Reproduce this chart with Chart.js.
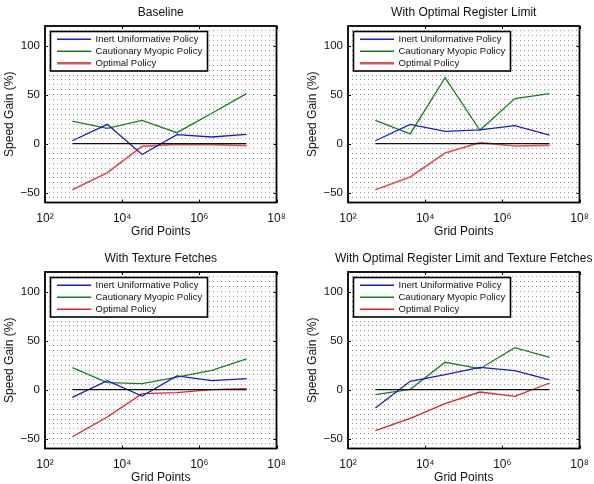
<!DOCTYPE html>
<html><head><meta charset="utf-8">
<script src="https://cdn.jsdelivr.net/npm/chart.js@4.4.1/dist/chart.umd.min.js"></script>
<style>
html,body{margin:0;padding:0;background:#fff;overflow:hidden;}
#wrap{position:relative;width:594px;height:484px;overflow:hidden;background:#fff;}
canvas{position:absolute;}
</style></head><body><div id="wrap">
<canvas id="c0" width="297" height="240" style="left:0px;top:0px"></canvas>
<canvas id="c1" width="297" height="240" style="left:303px;top:0px"></canvas>
<canvas id="c2" width="297" height="240" style="left:0px;top:246px"></canvas>
<canvas id="c3" width="297" height="240" style="left:303px;top:246px"></canvas>
</div>
<script>
// ---- data ----
const gridPoints = [512, 4096, 32768, 262144, 2097152, 16777216];
const panelTitles = ['Baseline', 'With Optimal Register Limit', 'With Texture Fetches', 'With Optimal Register Limit and Texture Fetches'];
const seriesNames = ['Inert Uniformative Policy', 'Cautionary Myopic Policy', 'Optimal Policy'];

const baselineInert = [3, 19.7, -11, 9.2, 6.8, 9.5];
const baselineMyopic = [23, 15.6, 23.8, 11.2, 31, 51];
const baselineOptimal = [-47, -29.6, -2.7, -0.8, -1, -2];

const registerInert = [3, 19.7, 12.6, 14, 18.4, 8.8];
const registerMyopic = [23.8, 9.9, 67.3, 13.6, 46, 51];
const registerOptimal = [-47, -34, -9.5, 1, -2.4, -1.7];

const textureInert = [-7.8, 9.2, -6.5, 14, 9.2, 11.2];
const textureMyopic = [22.4, 7.1, 6.1, 12.9, 19.7, 31.3];
const textureOptimal = [-48, -27.9, -4, -3, 0, 1];

const bothInert = [-18.7, 8.5, 15.3, 22.8, 19.4, 9.9];
const bothMyopic = [-5, 0.3, 27.9, 21.4, 42.9, 33];
const bothOptimal = [-41.8, -29.3, -14.3, -2.4, -6.8, 6.8];

const zeroLine = [0, 0, 0, 0, 0, 0];

const xTickValues = [1e2, 1e4, 1e6, 1e8];
const xTickLabels = ['10\u00B2', '10\u2074', '10\u2076', '10\u2078'];
const yTickValues = [-50, 0, 50, 100];
const yTickLabels = ['\u221250', '0', '50', '100'];
const yGridStep = 5;
const xRange = [1e2, 1e8];
const yRange = [-60, 120];

const panelSeries = [
  [baselineInert, baselineMyopic, baselineOptimal],
  [registerInert, registerMyopic, registerOptimal],
  [textureInert, textureMyopic, textureOptimal],
  [bothInert, bothMyopic, bothOptimal]
];

// ---- styles ----
const FONT = "'Liberation Sans', Arial, Helvetica, sans-serif";
const seriesColors = ['rgb(25,25,215)', 'rgb(25,128,25)', 'rgb(225,35,35)'];
const topRed = 'rgb(222,85,85)';

function pts(ys) { return gridPoints.map((x, i) => ({x: x, y: ys[i]})); }

const framePlugin = {
  id: 'frameAndLegend',
  afterDatasetsDraw(chart, args, opts) {
    const ctx = chart.ctx, ca = chart.chartArea;
    const xs = chart.scales.x, ys = chart.scales.y;
    ctx.save();
    // ticks inside
    ctx.strokeStyle = '#000';
    ctx.lineWidth = 1;
    ctx.beginPath();
    xTickValues.forEach(v => {
      const px = Math.round(xs.getPixelForValue(v)) + 0.5;
      ctx.moveTo(px, ca.bottom); ctx.lineTo(px, ca.bottom - 3);
      ctx.moveTo(px, ca.top); ctx.lineTo(px, ca.top + 3);
    });
    yTickValues.forEach(v => {
      const py = Math.round(ys.getPixelForValue(v)) + 0.5;
      ctx.moveTo(ca.left, py); ctx.lineTo(ca.left + 3, py);
      ctx.moveTo(ca.right, py); ctx.lineTo(ca.right - 3, py);
    });
    ctx.stroke();
    // frame
    ctx.lineWidth = 1.8;
    ctx.strokeRect(ca.left, ca.top, ca.right - ca.left, ca.bottom - ca.top);
    // legend
    const bx = ca.left + 5.5, by = ca.top + 5.5, bw = 157, bh = 39.5;
    ctx.fillStyle = '#fff';
    ctx.fillRect(bx, by, bw, bh);
    ctx.lineWidth = 1.6;
    ctx.strokeStyle = '#000';
    ctx.strokeRect(bx, by, bw, bh);
    ctx.font = '9.5px ' + FONT;
    ctx.textBaseline = 'middle';
    ctx.textAlign = 'left';
    chart.data.datasets.forEach(ds => {
      if (!ds.inLegend) return;
      const ry = by + 7.8 + 12 * ds.legendRow;
      ctx.strokeStyle = ds.borderColor;
      ctx.lineWidth = ds.legendWidth;
      ctx.beginPath();
      ctx.moveTo(bx + 6.5, ry); ctx.lineTo(bx + 40.5, ry);
      ctx.stroke();
      ctx.fillStyle = '#111';
      ctx.fillText(ds.label, bx + 45, ry + 0.5);
    });
    // title
    ctx.font = '12px ' + FONT;
    ctx.fillStyle = '#111';
    ctx.textAlign = 'center';
    ctx.fillText(opts.title, (ca.left + ca.right) / 2, 12.7);
    ctx.restore();
  }
};

panelSeries.forEach((series, p) => {
  const datasets = [{
    label: 'zero', data: pts(zeroLine), borderColor: '#111', borderWidth: 1.2,
    pointRadius: 0, tension: 0, inLegend: false
  }];
  series.forEach((ys, s) => {
    const isTopRed = (s === 2 && p < 2);
    datasets.push({
      label: seriesNames[s], data: pts(ys),
      borderColor: isTopRed ? topRed : seriesColors[s],
      borderWidth: isTopRed ? 1.7 : 1.3,
      legendWidth: isTopRed ? 2.6 : 1.4,
      pointRadius: 0, tension: 0, inLegend: true, legendRow: s
    });
  });
  new Chart(document.getElementById('c' + p), {
    type: 'line',
    data: {datasets: datasets},
    plugins: [framePlugin],
    options: {
      responsive: false, animation: false, devicePixelRatio: 1,
      layout: {padding: {left: 0, right: 20.5, top: 26, bottom: 0}},
      plugins: {
        legend: {display: false}, tooltip: {enabled: false}, title: {display: false},
        frameAndLegend: {title: panelTitles[p]}
      },
      scales: {
        x: {
          type: 'logarithmic', min: xRange[0], max: xRange[1],
          afterBuildTicks: s => { s.ticks = xTickValues.map(v => ({value: v})); },
          afterFit: s => { s.height = 37.5; },
          grid: {display: false, drawTicks: false},
          border: {display: false},
          ticks: {
            autoSkip: false, maxRotation: 0, padding: 9, color: '#111',
            font: {family: FONT, size: 12},
            callback: v => { const i = xTickValues.indexOf(v); return i >= 0 ? xTickLabels[i] : ''; }
          },
          title: {display: true, text: 'Grid Points', color: '#111', font: {family: FONT, size: 12}, padding: {top: 0, bottom: 1.5}}
        },
        y: {
          type: 'linear', min: yRange[0], max: yRange[1],
          afterBuildTicks: s => {
            const t = [];
            for (let v = yRange[0]; v <= yRange[1]; v += yGridStep) t.push({value: v});
            s.ticks = t;
          },
          afterFit: s => { s.width = 45; },
          grid: {
            drawTicks: false, lineWidth: 1,
            color: c => (c.tick && (c.tick.value === yRange[0] || c.tick.value === yRange[1])) ? 'rgba(0,0,0,0)' : 'rgba(0,0,0,0.42)'
          },
          border: {display: false, dash: [1, 3]},
          ticks: {
            autoSkip: false, padding: 5, color: '#111',
            font: {family: FONT, size: 11.5},
            callback: v => { const i = yTickValues.indexOf(v); return i >= 0 ? yTickLabels[i] : ''; }
          },
          title: {display: true, text: 'Speed Gain (%)', color: '#111', font: {family: FONT, size: 12}, padding: {top: 2.3, bottom: 0}}
        }
      }
    }
  });
});
</script>
</body></html>
